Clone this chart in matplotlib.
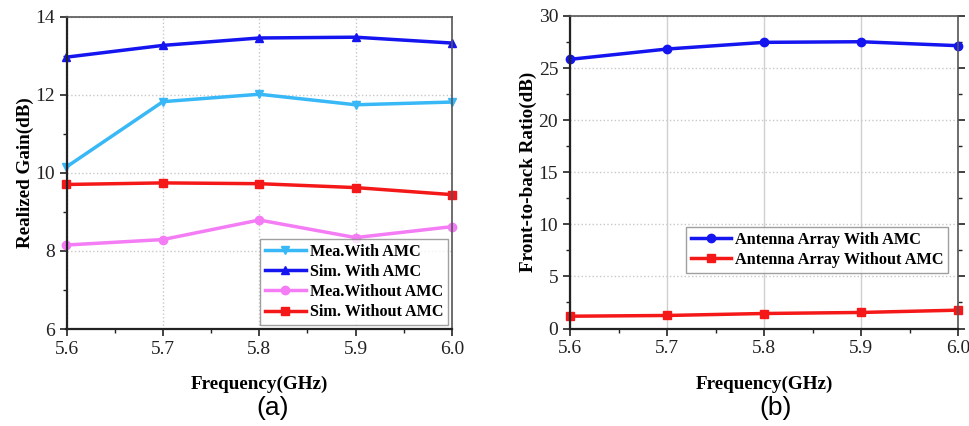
import matplotlib.pyplot as plt
from matplotlib.ticker import MultipleLocator

# frequency points (GHz)
freq = [5.6, 5.7, 5.8, 5.9, 6.0]

# realized gain (dB)
gain_mea_amc = [10.15, 11.82, 12.01, 11.74, 11.81]
gain_sim_amc = [12.96, 13.26, 13.45, 13.47, 13.32]
gain_mea_noamc = [8.15, 8.29, 8.79, 8.34, 8.62]
gain_sim_noamc = [9.70, 9.74, 9.72, 9.62, 9.44]

# front-to-back ratio (dB)
fbr_amc = [25.84, 26.83, 27.47, 27.53, 27.15]
fbr_noamc = [1.18, 1.25, 1.44, 1.54, 1.76]

serif = "Liberation Serif"
plt.rcParams["font.family"] = serif

fig = plt.figure(figsize=(9.7, 4.26), dpi=100)
axA = fig.add_axes([66.5/970, 1-329/426, (452-66.5)/970, (329-16.5)/426])
axB = fig.add_axes([570/970, 1-328.5/426, (958-570)/970, (328.5-16)/426])

lw = 2.5
ms = 6

axA.plot(freq, gain_mea_amc, color="#38b8f6", lw=lw, marker="v", ms=ms, label="Mea.With AMC")
axA.plot(freq, gain_sim_amc, color="#1515f0", lw=lw, marker="^", ms=ms, label="Sim. With AMC")
axA.plot(freq, gain_mea_noamc, color="#f47cf4", lw=lw, marker="o", ms=ms, label="Mea.Without AMC")
axA.plot(freq, gain_sim_noamc, color="#f51818", lw=lw, marker="s", ms=ms - 0.5, label="Sim. Without AMC")
axA.set_ylim(6, 14)
axA.yaxis.set_major_locator(MultipleLocator(2))
axA.yaxis.set_minor_locator(MultipleLocator(1))
axA.set_ylabel("Realized Gain(dB)", fontsize=13.8, fontweight="bold", labelpad=1)
axA.grid(True, which="major", color="#c8c8c8", ls=":", lw=1.0)

axB.plot(freq, fbr_amc, color="#1515f0", lw=lw, marker="o", ms=ms, label="Antenna Array With AMC")
axB.plot(freq, fbr_noamc, color="#f51818", lw=lw, marker="s", ms=ms - 0.5, label="Antenna Array Without AMC")
axB.set_ylim(0, 30)
axB.yaxis.set_major_locator(MultipleLocator(5))
axB.yaxis.set_minor_locator(MultipleLocator(2.5))
axB.set_ylabel("Front-to-back Ratio(dB)", fontsize=13.8, fontweight="bold", labelpad=1)
axB.grid(True, axis="x", which="major", color="#d0d0d0", ls="-", lw=1.0)
axB.grid(True, axis="y", which="major", color="#c8c8c8", ls=":", lw=1.0)
axB.tick_params(axis="y", which="both", right=True, labelright=False)
axB.tick_params(axis="y", which="major", direction="inout")

for ax in (axA, axB):
    ax.set_xlim(5.6, 6.0)
    ax.xaxis.set_major_locator(MultipleLocator(0.1))
    ax.xaxis.set_minor_locator(MultipleLocator(0.05))
    ax.xaxis.set_major_formatter(plt.FormatStrFormatter("%.1f"))
    ax.set_xlabel("Frequency(GHz)", fontsize=13.8, fontweight="bold", labelpad=13)
    ax.tick_params(which="major", direction="out", length=5, width=1.2, labelsize=14, colors="#222222")
    ax.tick_params(which="minor", direction="out", length=3, width=1.0, colors="#222222")
    ax.set_axisbelow(True)
    for side in ("left", "bottom"):
        ax.spines[side].set_linewidth(1.6)
        ax.spines[side].set_color("#222222")
    for side in ("top", "right"):
        ax.spines[side].set_linewidth(1.2)
        ax.spines[side].set_color("#555555")
    for line in ax.get_lines():
        line.set_clip_on(False)

legA = axA.legend(loc="lower right", bbox_to_anchor=(1.0, 0.0), frameon=True,
                  fancybox=False, edgecolor="#888888", borderpad=0.3, labelspacing=0.25,
                  handlelength=2.6, handletextpad=0.2, borderaxespad=0.25,
                  prop={"family": serif, "weight": "bold", "size": 11.6})
legA.get_frame().set_linewidth(1.0)

legB = axB.legend(loc="lower right", bbox_to_anchor=(0.985, 0.165), frameon=True,
                  fancybox=False, edgecolor="#888888", borderpad=0.3, labelspacing=0.25,
                  handlelength=2.5, handletextpad=0.2, borderaxespad=0.25,
                  prop={"family": serif, "weight": "bold", "size": 11.7})
legB.get_frame().set_linewidth(1.0)

fig.text(273/970, 1-408/426, "(a)", ha="center", va="center", fontsize=19, family="Liberation Sans")
fig.text(776/970, 1-408/426, "(b)", ha="center", va="center", fontsize=19, family="Liberation Sans")

fig.savefig("out.png", dpi=100, facecolor="white")
